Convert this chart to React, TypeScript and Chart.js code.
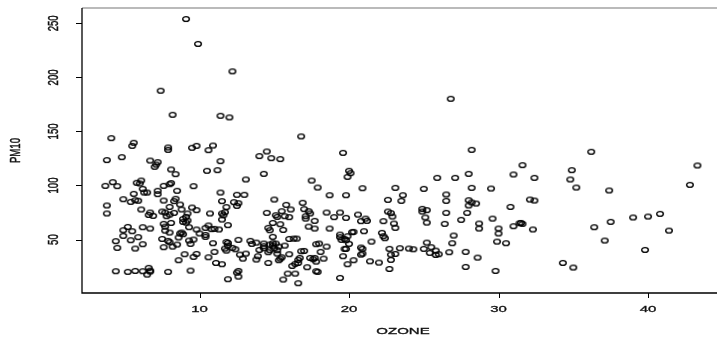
import React, { useEffect, useRef } from "react";
import { Chart, registerables } from "chart.js";

Chart.register(...registerables);

// OZONE values (x)
const ozone: number[] = [
  9.1, 9.9, 12.2, 7.4, 26.8, 8.2, 11.4, 12.0, 16.8, 4.1,
  5.6, 5.5, 7.9, 7.9, 9.8, 9.5, 10.9, 10.6, 28.2, 36.2,
  19.6, 14.5, 14.0, 14.8, 15.4, 3.8, 4.8, 6.7, 7.2, 7.1,
  7.0, 11.4, 31.6, 43.3, 10.5, 11.2, 8.1, 8.4, 14.3, 20.0,
  20.1, 19.9, 28.0, 31.0, 34.9, 34.8, 35.2, 25.9, 27.1, 32.4,
  13.1, 17.5, 4.2, 3.7, 4.5, 5.8, 6.1, 6.0, 8.0, 8.1,
  7.6, 9.6, 17.9, 19.8, 20.9, 23.1, 25.0, 28.2, 29.5, 42.8,
  6.2, 6.3, 7.2, 6.5, 7.2, 8.5, 5.6, 11.4, 12.5, 13.0,
  18.7, 23.6, 26.5, 37.4, 4.9, 5.4, 5.7, 7.6, 8.3, 8.4,
  8.7, 8.8, 8.0, 15.0, 15.8, 12.3, 12.6, 12.5, 11.8, 22.6,
  23.5, 26.5, 28.0, 28.2, 28.5, 28.0, 30.8, 32.1, 32.4, 6.1,
  7.5, 6.7, 6.6, 6.9, 7.7, 8.0, 8.3, 7.8, 3.8, 3.8,
  9.5, 9.8, 9.2, 9.1, 8.9, 10.7, 11.5, 11.7, 11.6, 11.5,
  14.5, 15.1, 15.5, 15.2, 15.7, 16.0, 16.1, 17.0, 17.3, 17.4,
  16.9, 17.1, 17.1, 17.7, 18.5, 19.4, 19.0, 19.8, 20.6, 21.1,
  21.2, 20.8, 22.6, 22.8, 22.9, 22.3, 23.0, 23.1, 24.9, 25.2,
  24.9, 25.1, 25.2, 26.5, 26.4, 27.5, 27.9, 28.7, 28.7, 29.6,
  30.0, 31.0, 31.4, 31.5, 31.6, 32.3, 36.4, 37.5, 39.0, 40.0,
  40.8, 41.4, 39.8, 37.1, 34.3, 35.0, 30.0, 29.9, 30.5, 29.8,
  27.8, 27.8, 28.6, 27.0, 26.9, 26.7, 25.2, 25.5, 25.0, 25.8,
  26.0, 25.8, 25.4, 24.3, 24.0, 23.4, 22.7, 22.8, 23.1, 22.8,
  22.7, 22.2, 22.3, 22.4, 21.5, 21.0, 20.8, 20.9, 20.9, 20.8,
  21.4, 22.0, 20.3, 20.2, 20.3, 19.9, 19.4, 19.5, 19.8, 19.7,
  20.0, 19.7, 19.8, 19.6, 19.9, 19.4, 19.4, 18.7, 18.5, 18.1,
  18.3, 18.0, 17.8, 17.7, 17.3, 17.7, 17.6, 17.8, 17.8, 17.9,
  17.2, 17.4, 16.8, 17.0, 16.7, 16.6, 16.6, 16.4, 16.2, 16.4,
  16.6, 15.9, 15.6, 16.0, 16.3, 15.6, 16.0, 15.5, 15.2, 15.4,
  15.3, 15.0, 15.2, 14.9, 14.9, 15.1, 15.3, 14.7, 14.7, 14.9,
  14.7, 14.6, 14.9, 14.3, 14.3, 14.0, 13.9, 13.8, 14.6, 13.4,
  13.5, 13.1, 12.9, 12.7, 12.5, 12.6, 11.9, 12.2, 11.8, 11.9,
  11.8, 11.7, 11.1, 11.5, 11.0, 10.6, 9.8, 9.6, 9.4, 9.0,
  8.6, 7.9, 10.9, 9.4, 9.6, 9.3, 10.4, 10.0, 9.8, 10.4,
  10.4, 10.6, 11.0, 11.3, 10.8, 11.9, 11.5, 8.8, 8.9, 8.6,
  8.7, 9.1, 9.2, 9.3, 8.1, 7.6, 7.7, 7.7, 8.0, 7.9,
  8.0, 8.2, 8.5, 7.5, 7.6, 6.7, 6.2, 5.9, 6.2, 5.7,
  5.4, 5.5, 5.2, 4.9, 4.9, 4.4, 4.5, 4.4, 5.2, 5.7,
  6.2, 6.6, 6.7, 6.5, 6.7, 12.4, 12.6, 11.9, 12.6, 14.6,
  14.3, 13.8, 16.5, 15.7, 5.9, 8.9, 15.4,
];

// PM10 values (y)
const pm10: number[] = [
  254, 231, 205.6, 187.7, 180.2, 165.4, 164.5, 163, 145.4, 143.8,
  139.5, 136.7, 135.2, 133, 136.7, 134.9, 137, 132.7, 133, 131.2,
  130.2, 131.5, 127.2, 125.3, 124.4, 123.5, 126.2, 123.1, 121.6, 119.4,
  117.3, 122.5, 118.8, 118.5, 113.6, 114.2, 114.8, 110.5, 110.8, 113.6,
  111.4, 108, 110.8, 110.2, 114.2, 105.6, 98.1, 107.1, 107.1, 107.1,
  105.6, 104.6, 103.1, 99.7, 99.4, 102.5, 104.6, 101.9, 101.2, 102.2,
  99.7, 99.4, 98.1, 91, 97.5, 97.8, 96.9, 97.8, 97.2, 100.6,
  96.9, 93.5, 95.1, 93.5, 92, 95.1, 92.3, 93.5, 91.4, 91.4,
  91, 91, 91.7, 95.4, 87.3, 84.9, 86.4, 86.1, 85.5, 87.7,
  82.4, 77.8, 80.2, 87.0, 82.1, 84.6, 83.6, 81.2, 80, 86.7,
  85.8, 85.8, 86.4, 84.3, 83.3, 81.5, 80.2, 87.0, 86.1, 77.8,
  75.9, 75.0, 72.8, 71.9, 75.0, 73.1, 74.7, 71.6, 74.1, 81.5,
  79.6, 77.2, 74.1, 71.0, 69.1, 74.1, 74.1, 75.3, 72.5, 68.5,
  74.7, 72.5, 76.2, 71.0, 71.6, 70.7, 77.8, 78.1, 76.2, 74.1,
  84.0, 71.6, 69.4, 67.3, 75.0, 75.0, 70.7, 70.1, 73.1, 69.4,
  67.3, 67.0, 75.9, 74.4, 71.3, 67.0, 64.8, 60.8, 78.4, 77.2,
  75.9, 70.4, 65.7, 74.7, 64.5, 68.2, 74.7, 64.8, 60.2, 69.4,
  60.2, 62.3, 65.1, 65.4, 64.5, 59.3, 61.4, 66.4, 70.4, 71.3,
  73.8, 58.3, 40.4, 49.1, 28.4, 24.1, 55.6, 48.1, 46.6, 21.0,
  24.7, 38.6, 33.3, 53.7, 46.6, 38.3, 47.2, 42.9, 41.4, 39.8,
  36.4, 35.8, 37.7, 41.0, 41.7, 42.0, 41.4, 36.1, 36.7, 31.2,
  22.8, 56.2, 53.1, 51.2, 48.1, 57.7, 42.6, 41.4, 37.0, 36.1,
  29.9, 28.7, 30.9, 56.8, 57.1, 53.1, 54.6, 49.7, 49.4, 50.6,
  46.0, 41.4, 41.4, 34.6, 27.2, 14.5, 52.2, 60.2, 43.5, 38.6,
  32.4, 46.3, 45.7, 60.2, 62.0, 33.0, 31.8, 29.6, 20.7, 20.1,
  24.4, 33.0, 39.2, 39.5, 33.0, 31.2, 28.4, 27.5, 25.6, 18.5,
  9.6, 18.5, 13.0, 50.6, 50.9, 58.9, 36.4, 33.6, 37.0, 32.4,
  30.9, 42.0, 40.1, 44.4, 46.6, 46.3, 43.5, 45.4, 40.1, 65.4,
  58.6, 60.8, 52.5, 46.3, 42.0, 40.4, 34.6, 31.5, 28.4, 48.8,
  46.0, 37.0, 32.4, 36.1, 19.4, 15.7, 13.3, 42.3, 47.8, 46.9,
  39.8, 41.7, 28.4, 27.2, 38.6, 33.6, 36.7, 34.0, 21.3, 36.4,
  30.9, 20.1, 46.6, 46.0, 50.0, 49.1, 52.5, 55.6, 59.3, 54.3,
  60.8, 63.0, 59.9, 59.3, 59.6, 63.3, 85.5, 56.5, 54.9, 51.9,
  55.6, 65.7, 67.6, 61.4, 65.4, 64.5, 62.0, 58.3, 56.5, 48.8,
  47.5, 43.5, 45.4, 50.6, 42.9, 60.2, 61.4, 52.2, 45.7, 41.7,
  49.4, 57.7, 61.7, 58.6, 53.4, 48.5, 42.3, 20.7, 20.1, 21.0,
  20.7, 23.8, 21.3, 17.6, 20.4, 41.0, 49.7, 44.4, 21.0, 38.3,
  43.8, 47.2, 50.9, 44.4, 85.9, 66.4, 64.2,
];

const xTicks: number[] = [10, 20, 30, 40];
const yTicks: number[] = [50, 100, 150, 200, 250];
const xTitle = "OZONE";
const yTitle = "PM10";

const CANVAS_W = 735;
const CANVAS_H = 337;
const SQUASH = 0.64;
const FONT = '15px "Liberation Sans", Arial, sans-serif';

export default function App() {
  const ref = useRef<HTMLCanvasElement>(null);

  useEffect(() => {
    const canvas = ref.current;
    if (!canvas) return;

    const marker = document.createElement("canvas");
    marker.width = 10;
    marker.height = 8;
    const m = marker.getContext("2d")!;
    m.strokeStyle = "#000";
    m.lineWidth = 1.4;
    m.beginPath();
    m.ellipse(5, 4, 3.3, 2.4, 0, 0, Math.PI * 2);
    m.stroke();

    const points = ozone.map((x, i) => ({ x, y: pm10[i] }));

    const drawText = (
      ctx: CanvasRenderingContext2D,
      t: string,
      x: number,
      y: number,
      rotate: boolean
    ) => {
      ctx.save();
      ctx.translate(x, y);
      ctx.scale(1, SQUASH);
      if (rotate) ctx.rotate(-Math.PI / 2);
      ctx.fillText(t, 0, 0);
      ctx.strokeText(t, 0, 0);
      ctx.restore();
    };

    const axesPlugin = {
      id: "rAxes",
      afterDraw(chart: any) {
        const ctx: CanvasRenderingContext2D = chart.ctx;
        const { left, right, top, bottom } = chart.chartArea;
        const xs = chart.scales.x;
        const ys = chart.scales.y;
        ctx.save();
        // top border (faint)
        ctx.strokeStyle = "#777";
        ctx.lineWidth = 1.2;
        ctx.beginPath();
        ctx.moveTo(left, top);
        ctx.lineTo(right, top);
        ctx.stroke();
        // left and bottom axes
        ctx.strokeStyle = "#000";
        ctx.lineWidth = 1.3;
        ctx.beginPath();
        ctx.moveTo(left, top);
        ctx.lineTo(left, bottom);
        ctx.lineTo(right, bottom);
        ctx.stroke();
        // ticks
        ctx.lineWidth = 1;
        ctx.beginPath();
        for (const v of xTicks) {
          const px = Math.round(xs.getPixelForValue(v)) + 0.5;
          ctx.moveTo(px, bottom);
          ctx.lineTo(px, bottom + 5);
        }
        for (const v of yTicks) {
          const py = Math.round(ys.getPixelForValue(v)) + 0.5;
          ctx.moveTo(left, py);
          ctx.lineTo(left - 6, py);
        }
        ctx.stroke();
        // labels
        ctx.fillStyle = "#111";
        ctx.strokeStyle = "#111";
        ctx.lineWidth = 0.5;
        ctx.font = FONT;
        ctx.textAlign = "center";
        ctx.textBaseline = "middle";
        for (const v of xTicks) {
          drawText(ctx, String(v), xs.getPixelForValue(v), 309, false);
        }
        for (const v of yTicks) {
          drawText(ctx, String(v), 54, ys.getPixelForValue(v), true);
        }
        drawText(ctx, xTitle, 403, 331, false);
        drawText(ctx, yTitle, 16, (top + bottom) / 2, true);
        ctx.restore();
      },
    };

    const chart = new Chart(canvas, {
      type: "scatter",
      data: {
        datasets: [
          {
            data: points,
            pointStyle: marker as any,
            pointRadius: 4,
            backgroundColor: "transparent",
            borderColor: "#000",
          },
        ],
      },
      options: {
        responsive: false,
        animation: false,
        devicePixelRatio: 1,
        events: [],
        layout: { padding: { left: 82, top: 8, right: CANVAS_W - 724, bottom: CANVAS_H - 293 } },
        plugins: { legend: { display: false }, tooltip: { enabled: false } },
        scales: {
          x: { type: "linear", display: false, min: 2.14, max: 45.08 },
          y: { type: "linear", display: false, min: 0.55, max: 264.2 },
        },
      },
      plugins: [axesPlugin],
    });

    return () => chart.destroy();
  }, []);

  return (
    <div
      style={{
        position: "absolute",
        left: 0,
        top: 0,
        width: 717,
        height: 337,
        overflow: "hidden",
        background: "#fff",
      }}
    >
      <canvas
        ref={ref}
        width={CANVAS_W}
        height={CANVAS_H}
        style={{ width: CANVAS_W, height: CANVAS_H, display: "block" }}
      />
    </div>
  );
}
